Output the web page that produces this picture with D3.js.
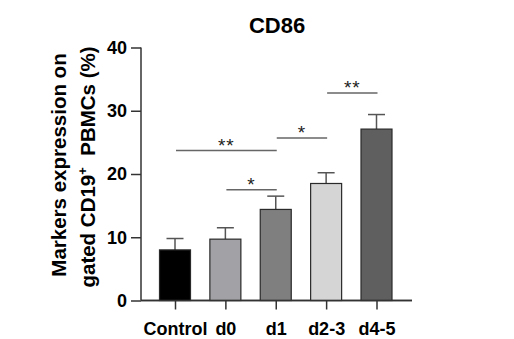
<!DOCTYPE html>
<html>
<head>
<meta charset="utf-8">
<script src="https://cdn.jsdelivr.net/npm/d3@7"></script>
<style>
  body { margin: 0; background: #fff; }
  text { font-family: "Liberation Sans", Arial, sans-serif; }
</style>
</head>
<body>
<svg id="chart" width="514" height="339"></svg>
<script>
// groups and their fill
var groups = ['Control', 'd0', 'd1', 'd2-3', 'd4-5'];
var colors = ['#000000', '#a2a1a6', '#7f7f7f', '#d5d5d5', '#5f5f5f'];

// mean and mean + SD (%)
var means = [8.0, 9.7, 14.4, 18.5, 27.1];
var upper = [9.8, 11.5, 16.5, 20.2, 29.4];

var yTicks = [0, 10, 20, 30, 40];

// significance brackets: from group, to group, level, label
var sig = [
  {from: 'Control', to: 'd1', y: 23.7, label: '**'},
  {from: 'd1', to: 'd2-3', y: 25.7, label: '*'},
  {from: 'd0', to: 'd1', y: 17.5, label: '*'},
  {from: 'd2-3', to: 'd4-5', y: 32.8, label: '**'}
];

var svg = d3.select('#chart');

var x = d3.scalePoint().domain(groups).range([175, 376.5]);
var y = d3.scaleLinear().domain([0, 40]).range([300.5, 47.5]);
var barW = 31, capW = 17;

// title
svg.append('text')
  .attr('x', 277).attr('y', 33)
  .attr('text-anchor', 'middle')
  .style('font-size', '22px').style('font-weight', 'bold')
  .text('CD86');

// y axis
var yAxis = svg.append('g')
  .attr('transform', 'translate(141,0)')
  .call(d3.axisLeft(y).tickValues(yTicks).tickSize(10).tickPadding(4));
yAxis.select('.domain').attr('d', 'M0,' + y(40) + 'V' + y(0)).attr('stroke', '#333').attr('stroke-width', 1.5);
yAxis.selectAll('.tick line').attr('stroke', '#333').attr('stroke-width', 1.5);
yAxis.selectAll('.tick text')
  .attr('fill', '#000')
  .style('font-size', '18px').style('font-weight', 'bold')
  .style('font-family', '"Liberation Sans", Arial, sans-serif');

// x axis
var xAxis = svg.append('g')
  .attr('transform', 'translate(0,' + y(0) + ')')
  .call(d3.axisBottom(x).tickSize(9).tickPadding(13));
xAxis.select('.domain').attr('d', 'M141,0H412').attr('stroke', '#333').attr('stroke-width', 1.5);
xAxis.selectAll('.tick line').attr('stroke', '#333').attr('stroke-width', 1.5);
xAxis.selectAll('.tick text')
  .attr('fill', '#000')
  .style('font-size', '18px').style('font-weight', 'bold')
  .style('font-family', '"Liberation Sans", Arial, sans-serif');

// error bars (drawn first so bar tops cover them)
var eb = svg.append('g').attr('stroke', '#555').attr('stroke-width', 1.5);
groups.forEach(function(g, i) {
  eb.append('line')
    .attr('x1', x(g)).attr('x2', x(g))
    .attr('y1', y(means[i])).attr('y2', y(upper[i]));
  eb.append('line')
    .attr('x1', x(g) - capW / 2).attr('x2', x(g) + capW / 2)
    .attr('y1', y(upper[i])).attr('y2', y(upper[i]));
});

// bars
svg.append('g').selectAll('rect')
  .data(groups)
  .enter()
  .append('rect')
  .attr('x', function(d) { return x(d) - barW / 2; })
  .attr('y', function(d, i) { return y(means[i]); })
  .attr('width', barW)
  .attr('height', function(d, i) { return y(0) - y(means[i]); })
  .attr('fill', function(d, i) { return colors[i]; })
  .attr('stroke', '#2a2a2a')
  .attr('stroke-width', 1.2);

// redraw x axis line over bar bottoms
svg.append('line')
  .attr('x1', 141).attr('x2', 412)
  .attr('y1', y(0)).attr('y2', y(0))
  .attr('stroke', '#333').attr('stroke-width', 1.5);

// significance brackets
var s = svg.append('g');
sig.forEach(function(d) {
  s.append('line')
    .attr('x1', x(d.from) + 1).attr('x2', x(d.to) + 1)
    .attr('y1', y(d.y)).attr('y2', y(d.y))
    .attr('stroke', '#666').attr('stroke-width', 1.5);
  s.append('text')
    .attr('x', (x(d.from) + x(d.to)) / 2 + 1)
    .attr('y', y(d.y) + 1)
    .attr('text-anchor', 'middle')
    .style('font-size', '19px')
    .style('letter-spacing', '1px')
    .attr('fill', '#222')
    .text(d.label);
});

// y axis title, two rotated lines
svg.append('text')
  .attr('transform', 'translate(66,165) rotate(-90)')
  .attr('text-anchor', 'middle')
  .style('font-size', '20.5px').style('font-weight', 'bold')
  .text('Markers expression on');

var t2 = svg.append('text')
  .attr('transform', 'translate(95,167) rotate(-90)')
  .attr('text-anchor', 'middle')
  .style('font-size', '20.5px').style('font-weight', 'bold');
t2.append('tspan').text('gated CD19');
t2.append('tspan').attr('dy', -8).style('font-size', '13px').text('+');
t2.append('tspan').attr('dy', 8).text('\u00a0 PBMCs (%)');
</script>
</body>
</html>
